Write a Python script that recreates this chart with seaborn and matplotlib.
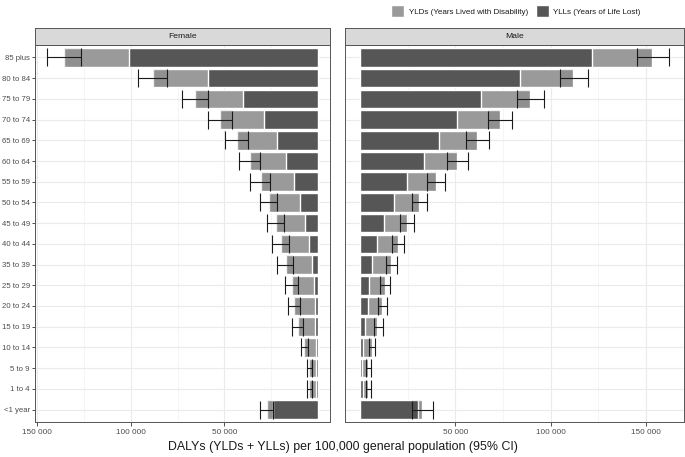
import numpy as np
import pandas as pd
import seaborn as sns
import matplotlib.pyplot as plt
from matplotlib.patches import Patch
from matplotlib.ticker import FuncFormatter

ages = ["85 plus", "80 to 84", "75 to 79", "70 to 74", "65 to 69", "60 to 64",
        "55 to 59", "50 to 54", "45 to 49", "40 to 44", "35 to 39", "25 to 29",
        "20 to 24", "15 to 19", "10 to 14", "5 to 9", "1 to 4", "<1 year"]

# female
f_yll = [100700, 58800, 39750, 28700, 21750, 16930, 12830, 9450, 6770,
         4630, 3200, 1780, 1430, 1250, 950, 1000, 1200, 23700]
f_yld = [34800, 29400, 25850, 23350, 21210, 19270, 17650, 16550, 15690,
         14970, 13730, 11920, 11050, 9090, 6200, 3600, 3300, 3570]
f_lo = [126700, 80900, 58800, 46000, 37400, 31000, 25670, 21570, 18180,
        15500, 13370, 10340, 9270, 7660, 5200, 3300, 3300, 23700]
f_hi = [144900, 96250, 72700, 58470, 49400, 42250, 36180, 31000, 27270,
        24240, 21570, 17800, 16040, 13550, 9100, 5900, 5700, 31000]

# male
m_yll = [121700, 83900, 63600, 50700, 41400, 33400, 24650, 17650, 12590,
         8740, 6290, 4540, 4200, 2800, 1800, 900, 1500, 30200]
m_yld = [31600, 28100, 25400, 22500, 20000, 17600, 15200, 13290, 12060,
         11010, 10140, 8400, 7300, 6110, 4500, 3500, 2900, 2100]
m_lo = [145600, 104700, 82200, 67300, 55800, 45800, 35300, 27440, 21150,
        16780, 13810, 10490, 9440, 7520, 4700, 3150, 3200, 27400]
m_hi = [162000, 119700, 96300, 79900, 67500, 56500, 44750, 35300, 28140,
        23070, 19580, 15730, 14330, 11890, 7900, 5600, 5600, 38300]

light = "#9a9a9a"
dark = "#565656"
txt = "#4d4d4d"

sns.set_theme(style="whitegrid")
plt.rcParams["font.family"] = ["Liberation Sans", "DejaVu Sans"]

fig = plt.figure(figsize=(6.85, 4.57), dpi=100)
W, H = 685, 457
ax_f = fig.add_axes([35 / W, 35 / H, 295 / W, 377 / H])
ax_m = fig.add_axes([345 / W, 35 / H, 339 / W, 377 / H])

fmt = FuncFormatter(lambda v, p: f"{int(v):,}".replace(",", " "))


def panel(ax, yll, yld, lo, hi, xlim, title, strip_x, strip_w):
    df = pd.DataFrame({"age": ages, "YLL": yll, "YLD": yld, "lo": lo, "hi": hi})
    df["DALY"] = df["YLL"] + df["YLD"]
    pos = np.arange(len(ages))

    sns.barplot(data=df, x="DALY", y="age", order=ages, orient="h", color=light,
                saturation=1, width=0.9, errorbar=None, ax=ax, zorder=2)
    sns.barplot(data=df, x="YLL", y="age", order=ages, orient="h", color=dark,
                saturation=1, width=0.9, errorbar=None, ax=ax, zorder=2)
    # slight shading between lower CI and the total
    ax.barh(pos, df["DALY"] - df["lo"], left=df["lo"], height=0.9,
            color="black", alpha=0.06, zorder=3, linewidth=0)
    ax.errorbar(df["DALY"], pos, xerr=[df["DALY"] - df["lo"], df["hi"] - df["DALY"]],
                fmt="none", ecolor="#1a1a1a", elinewidth=0.8, capsize=6.7,
                capthick=0.8, zorder=4)

    ax.set_xlim(*xlim)
    ax.set_ylim(len(ages) - 0.4, -0.6)
    ax.set_xticks([50000, 100000, 150000])
    ax.set_xticks([25000, 75000, 125000], minor=True)
    ax.xaxis.set_major_formatter(fmt)
    ax.grid(True, which="major", color="#ebebeb", linewidth=0.8, zorder=0)
    ax.grid(True, which="minor", axis="x", color="#f2f2f2", linewidth=0.5, zorder=0)
    ax.set_axisbelow(True)
    ax.set_xlabel("")
    ax.set_ylabel("")
    ax.tick_params(axis="x", which="major", bottom=True, length=3, width=0.6,
                   color="#333333", labelsize=5.9, labelcolor=txt, pad=2)
    ax.tick_params(axis="x", which="minor", bottom=False)
    for s in ax.spines.values():
        s.set_color("#555555")
        s.set_linewidth(0.7)

    sax = fig.add_axes([strip_x / W, (H - 45) / H, strip_w / W, 17 / H])
    sax.set_facecolor("#d9d9d9")
    sax.set_xticks([])
    sax.set_yticks([])
    for s in sax.spines.values():
        s.set_color("#555555")
        s.set_linewidth(0.7)
    sax.text(0.5, 0.5, title, ha="center", va="center", fontsize=6.1,
             color="#1a1a1a", transform=sax.transAxes)


panel(ax_f, f_yll, f_yld, f_lo, f_hi, (151230, -6525), "Female", 35, 295)
panel(ax_m, m_yll, m_yld, m_lo, m_hi, (-7870, 170000), "Male", 345, 339)

ax_f.tick_params(axis="y", left=True, length=2.5, width=0.6, color="#333333",
                 labelsize=5.6, labelcolor=txt, pad=1.2)
ax_m.tick_params(axis="y", left=False, labelleft=False)

handles = [Patch(facecolor=light, label="YLDs (Years Lived with Disability)"),
           Patch(facecolor=dark, label="YLLs (Years of Life Lost)")]
fig.legend(handles=handles, loc="upper right", bbox_to_anchor=(648 / W, 1.006),
           ncol=2, frameon=False, fontsize=5.8, handlelength=1.6, handleheight=2.1,
           columnspacing=0.9, handletextpad=0.6, labelcolor="#1a1a1a")

fig.text(0.5, 10 / H, "DALYs (YLDs + YLLs) per 100,000 general population (95% CI)",
         ha="center", va="center", fontsize=8.9, color="#1a1a1a")

fig.savefig("out.png", dpi=100)
